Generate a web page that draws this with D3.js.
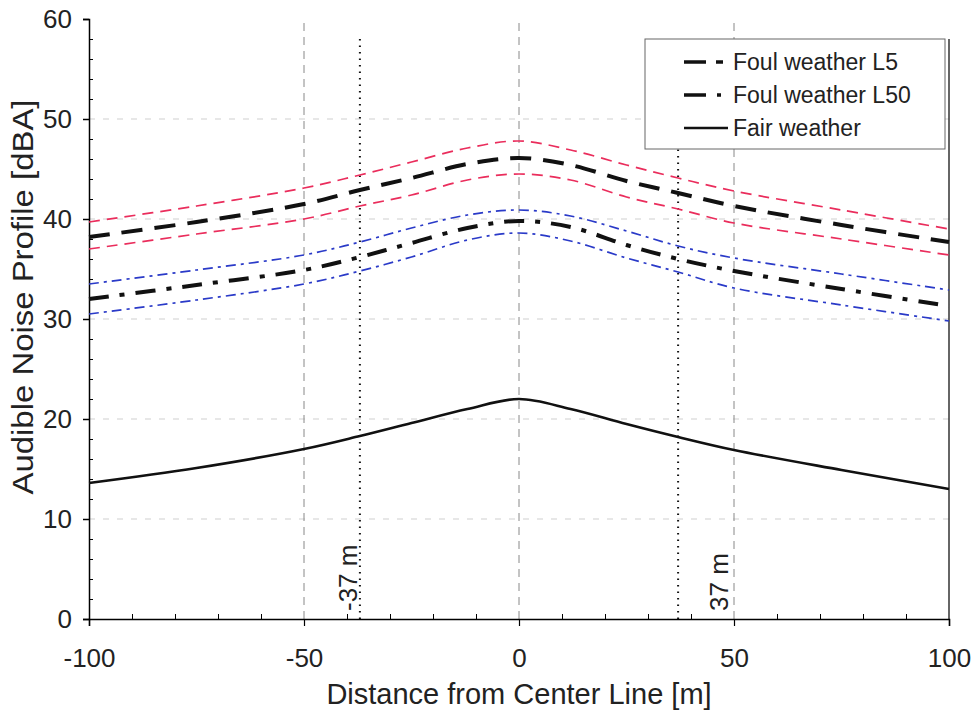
<!DOCTYPE html>
<html>
<head>
<meta charset="utf-8">
<script src="https://cdn.jsdelivr.net/npm/d3@7"></script>
<style>
body { margin: 0; background: #fff; }
svg text { font-family: "Liberation Sans", Arial, sans-serif; fill: #222; }
</style>
</head>
<body>
<script>
var dist = [-100,-75,-50,-37,-25,-12,0,12,25,37,50,75,100];
var l5Upper  = [39.7,41.3,43.1,44.4,45.7,47.1,47.8,46.9,45.4,44.1,42.8,40.9,39.0];
var l5       = [38.2,39.7,41.5,42.9,44.1,45.5,46.1,45.4,43.8,42.6,41.3,39.4,37.7];
var l5Lower  = [37.0,38.5,40.0,41.3,42.4,43.9,44.5,43.9,42.2,41.0,39.6,38.0,36.4];
var l50Upper = [33.5,34.9,36.4,37.7,39.1,40.4,40.9,40.3,38.8,37.3,36.1,34.5,32.9];
var l50      = [32.0,33.4,34.9,36.2,37.6,39.1,39.8,39.2,37.4,36.0,34.8,33.0,31.3];
var l50Lower = [30.5,31.9,33.5,34.8,36.2,37.9,38.6,37.8,36.1,34.7,33.1,31.4,29.8];
var fair     = [13.6,15.1,17.0,18.3,19.6,21.0,22.0,21.0,19.5,18.2,16.9,14.9,13.0];
var xTicks = [-100,-50,0,50,100];
var yTicks = [0,10,20,30,40,50,60];
var markers = [-37, 37];
var legendNames = ["Foul weather L5", "Foul weather L50", "Fair weather"];

function graficar(){
    var w = 973, h = 715;
    var svg = d3.select("body").append("svg")
        .attr("width", w)
        .attr("height", h);

    var x = d3.scaleLinear().domain([-100,100]).range([89,949]);
    var y = d3.scaleLinear().domain([0,60]).range([619,19]);

    // grid
    svg.selectAll("line.hgrid")
        .data(yTicks.filter(function(d){ return d > 0 && d < 60; }))
        .enter().append("line")
        .attr("x1", x(-100)).attr("x2", x(100))
        .attr("y1", function(d){ return y(d); })
        .attr("y2", function(d){ return y(d); })
        .attr("stroke", "#cfcfcf").attr("stroke-width", 1)
        .attr("stroke-dasharray", "6,8");
    svg.selectAll("line.vgrid")
        .data([-50,0,50])
        .enter().append("line")
        .attr("y1", y(0)).attr("y2", y(60))
        .attr("x1", function(d){ return x(d); })
        .attr("x2", function(d){ return x(d); })
        .attr("stroke", "#888").attr("stroke-width", 1)
        .attr("stroke-dasharray", "8,6");

    // +-37 m marker lines
    svg.selectAll("line.marker")
        .data(markers)
        .enter().append("line")
        .attr("y1", y(0)).attr("y2", y(58))
        .attr("x1", function(d){ return x(d); })
        .attr("x2", function(d){ return x(d); })
        .attr("stroke", "#111").attr("stroke-width", 2)
        .attr("stroke-dasharray", "1.5,5");
    svg.selectAll("text.marker")
        .data(markers)
        .enter().append("text")
        .text(function(d){ return d + " m"; })
        .attr("transform", function(d){
            var tx = d < 0 ? x(d) - 3 : x(d) + 50;
            return "translate(" + tx + ",611) rotate(-90)";
        })
        .attr("text-anchor", "start")
        .attr("font-size", 26);

    // frame
    svg.append("line").attr("x1", x(100)).attr("x2", x(100))
        .attr("y1", y(0)).attr("y2", y(58))
        .attr("stroke", "#333").attr("stroke-width", 1.5);

    // axes
    var fmt = function(d){ return String(d); };
    var yAxis = d3.axisLeft(y).tickValues(yTicks).tickSize(6).tickPadding(11).tickFormat(fmt);
    var gy = svg.append("g").attr("transform", "translate(" + x(-100) + ",0)").call(yAxis);
    gy.selectAll("text").attr("font-size", 26).attr("font-family", "Liberation Sans, Arial, sans-serif");
    gy.select(".domain").attr("stroke-width", 1.5);
    gy.selectAll(".tick line").attr("stroke-width", 1.5);
    svg.append("g").attr("transform", "translate(" + x(-100) + ",0)")
        .call(d3.axisRight(y).tickValues(d3.range(2,60,2).filter(function(d){ return d % 10; })).tickSize(4).tickFormat(""))
        .select(".domain").remove();

    var xAxis = d3.axisBottom(x).tickValues(xTicks).tickSize(7).tickPadding(23).tickFormat(fmt);
    var gx = svg.append("g").attr("transform", "translate(0," + y(0) + ")").call(xAxis);
    gx.selectAll("text").attr("font-size", 26).attr("font-family", "Liberation Sans, Arial, sans-serif");
    gx.select(".domain").attr("stroke-width", 1.5);
    gx.selectAll(".tick line").attr("stroke-width", 1.2);
    svg.append("g").attr("transform", "translate(0," + y(0) + ")")
        .call(d3.axisTop(x).tickValues(d3.range(-90,100,10).filter(function(d){ return d % 50; })).tickSize(5).tickFormat(""))
        .select(".domain").remove();

    svg.append("text")
        .text("Distance from Center Line [m]")
        .attr("x", 519).attr("y", 704)
        .attr("text-anchor", "middle")
        .attr("font-size", 29);
    svg.append("text")
        .text("Audible Noise Profile [dBA]")
        .attr("transform", "translate(33,297) rotate(-90)")
        .attr("text-anchor", "middle")
        .attr("font-size", 29)
        .attr("textLength", 395)
        .attr("lengthAdjust", "spacingAndGlyphs");

    // series
    var series = [
        { v: l5Upper,  color: "#ea2d5c", width: 1.7, dash: "11,7" },
        { v: l5Lower,  color: "#ea2d5c", width: 1.7, dash: "11,7" },
        { v: l50Upper, color: "#2a3ac8", width: 1.7, dash: "10,5,3,5" },
        { v: l50Lower, color: "#2a3ac8", width: 1.7, dash: "10,5,3,5" },
        { v: l5,       color: "#111",    width: 4,   dash: "21,12" },
        { v: l50,      color: "#111",    width: 4,   dash: "20,11,5,11" },
        { v: fair,     color: "#111",    width: 2.6, dash: null }
    ];
    var line = d3.line()
        .x(function(d){ return x(d[0]); })
        .y(function(d){ return y(d[1]); })
        .curve(d3.curveCatmullRom);

    svg.selectAll("path.serie")
        .data(series)
        .enter().append("path")
        .attr("class", "serie")
        .attr("d", function(s){ return line(dist.map(function(d,i){ return [d, s.v[i]]; })); })
        .attr("fill", "none")
        .attr("stroke", function(s){ return s.color; })
        .attr("stroke-width", function(s){ return s.width; })
        .attr("stroke-dasharray", function(s){ return s.dash; });

    // legend
    var lg = svg.append("g");
    lg.append("rect")
        .attr("x", 645).attr("y", 39).attr("width", 300).attr("height", 110)
        .attr("fill", "#fff").attr("stroke", "#666").attr("stroke-width", 1);
    var legDash = ["22,10,7,40", "22,11,4,40", null];
    var legW = [3.5, 3.5, 2.6];
    legendNames.forEach(function(n,i){
        var ly = 62 + i*33;
        lg.append("line")
            .attr("x1", 684).attr("x2", 728)
            .attr("y1", ly).attr("y2", ly)
            .attr("stroke", "#111").attr("stroke-width", legW[i])
            .attr("stroke-dasharray", legDash[i]);
        lg.append("text")
            .text(n)
            .attr("x", 733).attr("y", ly + 8)
            .attr("font-size", 23);
    });
}

graficar();
</script>
</body>
</html>
